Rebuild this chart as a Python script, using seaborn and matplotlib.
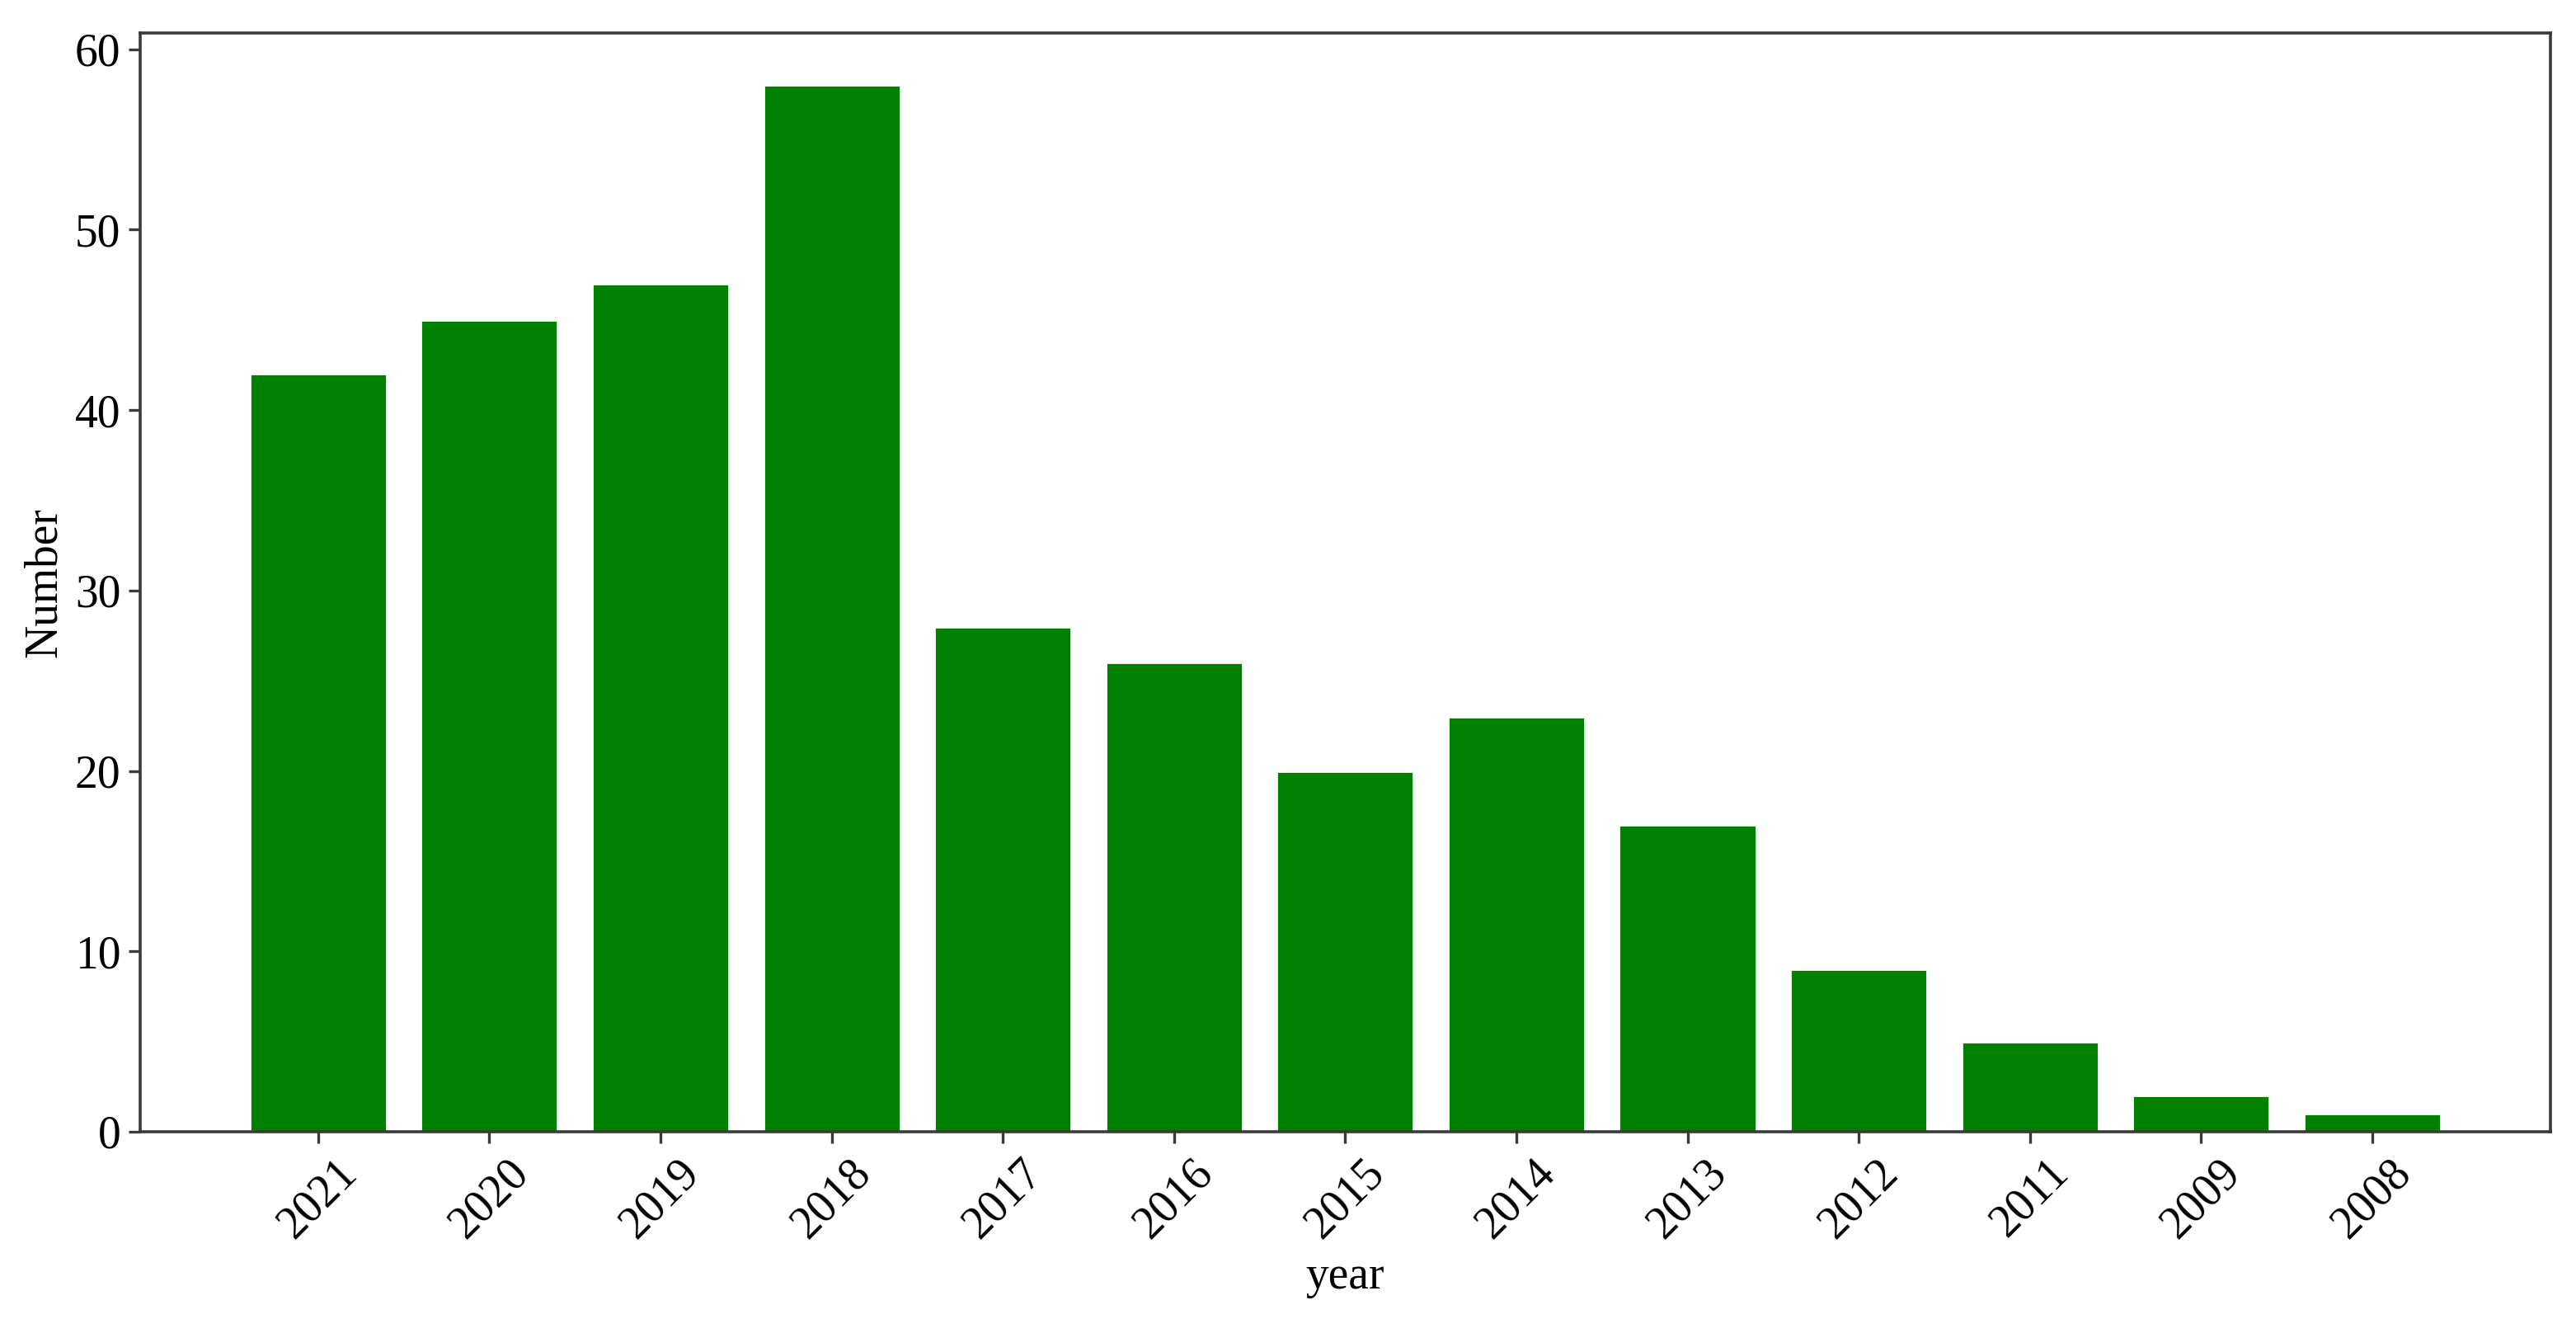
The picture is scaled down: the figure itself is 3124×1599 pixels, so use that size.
#!/usr/bin/env python3
import pandas as pd
import numpy as np
import matplotlib
matplotlib.use("Agg")
import matplotlib.pyplot as plt
import seaborn as sns

# values
years = ["2021", "2020", "2019", "2018", "2017", "2016", "2015",
         "2014", "2013", "2012", "2011", "2009", "2008"]
counts = [42, 45, 47, 58, 28, 26, 20, 23, 17, 9, 5, 2, 1]


def main():
    sns.set_style("ticks")
    plt.rcParams['font.family'] = ['Liberation Serif', 'DejaVu Serif']
    plt.rcParams['text.color'] = 'black'
    plt.rcParams['axes.labelcolor'] = 'black'
    plt.rcParams['xtick.labelcolor'] = 'black'
    plt.rcParams['ytick.labelcolor'] = 'black'

    df = pd.DataFrame({"year": years, "Number": counts})

    fig = plt.figure(figsize=(15.62, 7.995), dpi=200)
    ax = fig.add_axes([0.0544, 0.142, 0.9356, 0.833])

    sns.barplot(data=df, x="year", y="Number", color="#008000",
                saturation=1, width=0.8, ax=ax)

    # matplotlib-style default margins instead of seaborn's tight ones
    n = len(years)
    ax.set_xlim(-0.4 - 0.64, n - 1 + 0.4 + 0.64)
    ax.set_ylim(0, max(counts) * 1.05)
    ax.set_yticks(np.arange(0, 61, 10))

    for s in ax.spines.values():
        s.set_visible(True)
        s.set_color("#3a3a3a")
        s.set_linewidth(1.3)

    ax.tick_params(axis="both", labelsize=20, length=5, width=1.2,
                   color="#3a3a3a", labelcolor="black")
    plt.setp(ax.get_xticklabels(), rotation=45)
    ax.set_xlabel("year", fontsize=20, color="black")
    ax.set_ylabel("Number", fontsize=20, color="black")

    fig.savefig("out.png", dpi=200)


if __name__ == "__main__":
    main()
